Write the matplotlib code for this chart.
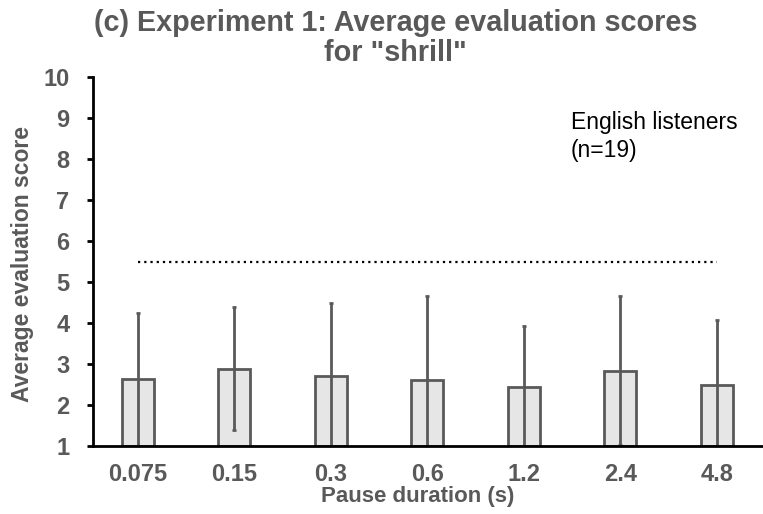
import matplotlib
matplotlib.use("Agg")
import matplotlib.pyplot as plt

categories = ["0.075", "0.15", "0.3", "0.6", "1.2", "2.4", "4.8"]
means = [2.63, 2.88, 2.71, 2.60, 2.44, 2.84, 2.48]
sds = [1.62, 1.50, 1.78, 2.07, 1.49, 1.82, 1.59]
reference_level = 5.5

gray = "#595959"
font = "Liberation Sans"

fig = plt.figure(figsize=(7.63, 5.14), dpi=100)
ax = fig.add_axes([93 / 763, 1 - 446 / 514, 1 - 93 / 763, (446 - 77) / 514])

x = list(range(len(categories)))
base = 1
ax.bar(x, [m - base for m in means], bottom=base, width=0.33,
       color="#e6e6e6", edgecolor=gray, linewidth=2, zorder=2)
ax.errorbar(x, means, yerr=sds, fmt="none", ecolor=gray, elinewidth=2,
            capsize=1.5, capthick=2, zorder=3)
ax.plot([x[0], x[-1]], [reference_level, reference_level], color="black",
        linestyle=(0, (1, 1.8)), linewidth=1.6, zorder=1)

ax.set_xlim(-0.463, 6.48)
ax.set_ylim(1, 10)
ax.set_yticks(range(1, 11))
ax.set_xticks(x)
ax.set_xticklabels(categories)
for s in ["top", "right"]:
    ax.spines[s].set_visible(False)
for s in ["left", "bottom"]:
    ax.spines[s].set_linewidth(2)
    ax.spines[s].set_zorder(4)
ax.tick_params(axis="y", direction="out", length=4, width=2, pad=13,
               labelsize=17, labelcolor=gray)
ax.tick_params(axis="x", direction="in", length=3, width=2, pad=12,
               labelsize=17, labelcolor=gray)
for lab in ax.get_xticklabels() + ax.get_yticklabels():
    lab.set_fontfamily(font)
    lab.set_fontweight("bold")

ax.set_xlabel("Pause duration (s)", fontsize=16, fontweight="bold", color=gray,
              family=font)
ax.xaxis.set_label_coords((417.5 - 93) / (763 - 93), -(502 - 446) / (446 - 77))
ax.xaxis.label.set_va("baseline")
ax.set_ylabel("Average evaluation score", fontsize=16.5, fontweight="bold",
              color=gray, family=font)
ax.yaxis.set_label_coords(-(93 - 23) / (763 - 93), (446 - 264.5) / (446 - 77))
ax.yaxis.label.set_va("center")

fig.text(395.5 / 763, 1 - 23 / 514, '(c) Experiment 1: Average evaluation scores',
         ha="center", va="center", fontsize=20.7, fontweight="bold", color=gray,
         family=font)
fig.text(395.5 / 763, 1 - 53 / 514, 'for "shrill"',
         ha="center", va="center", fontsize=20.7, fontweight="bold", color=gray,
         family=font)
fig.text(571 / 763, 1 - 129 / 514, "English listeners", ha="left", va="baseline",
         fontsize=16.5, color="black", family=font)
fig.text(571 / 763, 1 - 157 / 514, "(n=19)", ha="left", va="baseline",
         fontsize=16.5, color="black", family=font)

fig.savefig("out.png", dpi=100)
